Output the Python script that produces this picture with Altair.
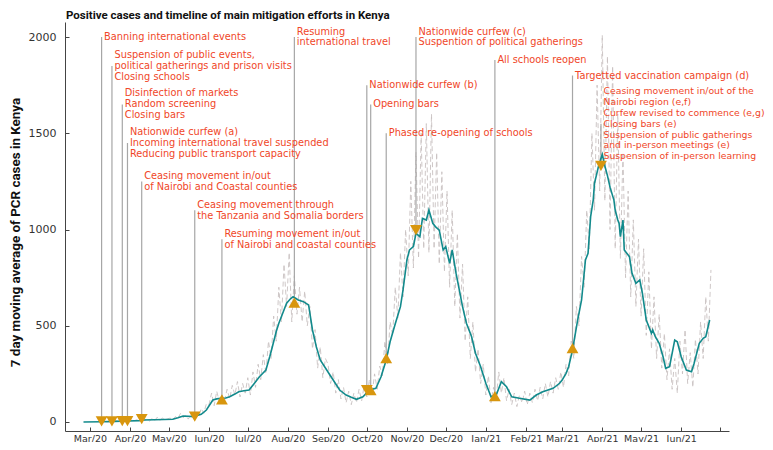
import altair as alt
import pandas as pd

# ---------------- data ----------------
TITLE = "Positive cases and timeline of main mitigation efforts in Kenya"
Y_TITLE = "7 day moving average of PCR cases in Kenya"

avg_dates = ["2020-02-25","2020-03-10","2020-03-20","2020-03-31","2020-04-08","2020-04-11","2020-04-20","2020-05-04","2020-05-08","2020-05-12","2020-05-16","2020-05-20","2020-05-26","2020-05-30","2020-06-04","2020-06-07","2020-06-10","2020-06-14","2020-06-17","2020-06-21","2020-06-24","2020-06-28","2020-07-02","2020-07-06","2020-07-10","2020-07-15","2020-07-18","2020-07-20","2020-07-23","2020-07-25","2020-07-28","2020-07-31","2020-08-03","2020-08-05","2020-08-09","2020-08-13","2020-08-17","2020-08-20","2020-08-23","2020-08-26","2020-08-31","2020-09-05","2020-09-10","2020-09-15","2020-09-19","2020-09-23","2020-09-28","2020-10-03","2020-10-08","2020-10-12","2020-10-16","2020-10-19","2020-10-23","2020-10-27","2020-10-29","2020-11-01","2020-11-03","2020-11-06","2020-11-08","2020-11-11","2020-11-13","2020-11-16","2020-11-18","2020-11-21","2020-11-23","2020-11-26","2020-11-29","2020-12-01","2020-12-04","2020-12-06","2020-12-09","2020-12-11","2020-12-14","2020-12-17","2020-12-21","2020-12-24","2020-12-28","2021-01-01","2021-01-05","2021-01-09","2021-01-13","2021-01-17","2021-01-21","2021-01-27","2021-02-04","2021-02-09","2021-02-14","2021-02-22","2021-02-27","2021-03-01","2021-03-04","2021-03-06","2021-03-09","2021-03-13","2021-03-16","2021-03-19","2021-03-21","2021-03-23","2021-03-25","2021-03-26","2021-03-29","2021-04-01","2021-04-03","2021-04-05","2021-04-07","2021-04-10","2021-04-11","2021-04-13","2021-04-14","2021-04-15","2021-04-17","2021-04-18","2021-04-22","2021-04-24","2021-04-27","2021-04-30","2021-05-02","2021-05-05","2021-05-09","2021-05-10","2021-05-12","2021-05-15","2021-05-18","2021-05-20","2021-05-23","2021-05-27","2021-05-29","2021-06-01","2021-06-05","2021-06-09","2021-06-11","2021-06-15","2021-06-18","2021-06-20","2021-06-23"]
avg_values = [0,1,3,5,7,10,12,14,22,31,30,28,40,62,114,120,123,125,131,145,157,162,166,200,235,270,340,391,470,513,565,617,640,651,634,625,608,478,390,322,270,218,166,140,128,118,131,166,175,235,322,417,510,599,686,842,894,911,980,963,1058,1049,1101,1032,1015,997,894,911,824,894,772,703,599,513,443,357,287,201,131,140,209,183,131,123,114,140,157,175,201,218,253,287,374,530,634,842,876,1067,1153,1240,1326,1390,1330,1280,1220,1153,1100,1049,1032,963,1049,894,859,772,720,738,669,530,461,478,443,409,339,279,287,426,417,339,270,261,305,409,435,443,530]

daily_start = "2020-03-13"   # one value every second day
daily_values = [
    1,0,3,2,7,3,15,6,13,8,
    9,4,12,6,16,8,14,5,18,7,25,9,20,12,17,
    20,10,28,18,45,22,35,15,40,25,52,30,70,45,95,
    90,150,85,160,105,140,110,170,120,190,140,210,130,200,150,
    230,140,260,180,300,220,350,250,420,330,550,420,700,520,820,600,
    880,520,760,560,700,520,680,500,600,380,480,280,390,230,330,
    300,200,260,150,220,120,180,100,160,90,150,100,170,110,190,
    130,220,140,250,170,290,240,420,300,520,450,700,540,880,650,1000,
    760,1250,800,1400,850,1500,900,1550,880,1600,900,1400,820,1300,780,
    1200,700,1100,600,980,540,820,420,650,330,520,260,380,200,300,
    140,240,100,180,120,260,150,230,110,170,90,150,80,140,100,160,
    90,150,100,170,110,180,120,200,130,210,150,230,170,260,
    180,300,240,420,330,600,500,860,700,1100,900,1500,1100,1750,1200,
    2010,1150,1900,1000,1850,900,1600,850,1400,750,1200,650,1050,600,950,
    550,900,450,780,380,650,330,560,280,460,220,380,170,330,150,420,
    250,480,200,360,180,430,250,520,330,650,420,790,
]

event_dates = ["2020-03-10","2020-03-18","2020-03-26","2020-03-30","2020-04-10","2020-05-21","2020-06-11","2020-08-06","2020-10-01","2020-10-04","2020-10-16","2020-11-08","2021-01-08","2021-03-09","2021-03-31"]
event_marker_values = [3,3,4,5,15,28,118,620,166,166,332,997,135,384,1330]
event_label_y = [2000,1850,1650,1450,1250,1100,950,2000,1750,1650,1500,2000,1880,1800,1550]
event_kind = ["down","down","down","down","down","down","up","up","down","up","up","down","up","up","down"]
NB = "\u00a0"
event_labels = [
    "Banning international events",
    "Suspension of public events,\n" + NB + "political gatherings and prison visits\nClosing schools",
    "Disinfection of markets\nRandom screening\nClosing bars",
    "Nationwide curfew (a)\nIncoming international travel suspended\nReducing public transport capacity",
    "Ceasing movement in/out\n" + NB + "of Nairobi and Coastal counties",
    "Ceasing movement through\n" + NB + "the Tanzania and Somalia borders",
    "Resuming movement in/out\n" + NB + "of Nairobi and coastal counties",
    "Resuming\n" + NB + "international travel",
    "Nationwide curfew (b)",
    "Opening bars",
    "Phased re-opening of schools",
    "Nationwide curfew (c)\nSuspention of political gatherings",
    "All schools reopen",
    "Targetted vaccination campaign (d)",
    "Ceasing movement in/out of the\n" + NB + "Nairobi region (e,f)\nCurfew revised to commence (e,g)\nClosing bars (e)\nSuspension of public gatherings\n" + NB + "and in-person meetings (e)\nSuspension of in-person learning",
]

tick_dates = ["2020-03-01","2020-04-01","2020-05-01","2020-06-01","2020-07-01","2020-08-01","2020-09-01","2020-10-01","2020-11-01","2020-12-01","2021-01-01","2021-02-01","2021-03-01","2021-04-01","2021-05-01","2021-06-01","2021-07-01"]
y_ticks = [0, 500, 1000, 1500, 2000]

# ---------------- helpers ----------------
def ms(s):
    return int(pd.Timestamp(s, tz="UTC").value // 10**6)

PLOT_W, PLOT_H = 664, 409
Y_DOMAIN = [-46.8, 2078]
LINE_H = 10.9
line_units = LINE_H * (Y_DOMAIN[1] - Y_DOMAIN[0]) / PLOT_H

df_avg = pd.DataFrame({"t": [ms(d) for d in avg_dates], "v": avg_values})
daily_dates = pd.date_range(daily_start, periods=len(daily_values), freq="2D", tz="UTC")
df_daily = pd.DataFrame({"t": [int(d.value // 10**6) for d in daily_dates], "v": daily_values})
n_lines = [lab.count("\n") + 1 for lab in event_labels]
df_ev = pd.DataFrame({
    "t": [ms(d) for d in event_dates],
    "v": event_marker_values,
    "top": event_label_y,
    # Vega draws the first line at the anchor: centre the block on the label height
    "text_y": [ty + (n - 1) / 2 * line_units for ty, n in zip(event_label_y, n_lines)],
    "kind": event_kind,
    "label": event_labels,
    "nlines": n_lines,
})

tick_ms = [ms(d) for d in tick_dates]
cutoff = ms("2021-06-15")

xs = alt.Scale(type="utc", domain=[ms("2020-02-10T17:00"), ms("2021-07-07T23:00")], nice=False)
ys = alt.Scale(domain=Y_DOMAIN, nice=False, zero=False)

AX_COL = "#444444"
LBL_COL = "#333333"

tick_axis_x = alt.Axis(values=tick_ms, orient="bottom", offset=-4, domain=False, labels=False,
                       ticks=True, tickSize=4, tickColor=AX_COL, tickWidth=1, grid=False, title=None)
tick_axis_y = alt.Axis(values=y_ticks, orient="left", offset=-4, domain=False, labels=False,
                       ticks=True, tickSize=4, tickColor=AX_COL, tickWidth=1, grid=False, title=None)

main_axis_x = alt.Axis(values=tick_ms, orient="bottom", domain=True, domainColor=AX_COL, domainWidth=1,
                       ticks=False, tickSize=0, grid=False, title=None,
                       labelExpr=f"datum.value > {cutoff} ? '' : utcFormat(datum.value, '%b/%y')",
                       labelFont="DejaVu Sans", labelFontSize=9.5, labelColor=LBL_COL, labelPadding=2,
                       labelAngle=0, labelOverlap=False)
main_axis_y = alt.Axis(values=y_ticks, orient="left", domain=True, domainColor=AX_COL, domainWidth=1,
                       ticks=False, tickSize=0, grid=False, format="d",
                       labelFont="DejaVu Sans", labelFontSize=11, labelColor=LBL_COL, labelPadding=9,
                       title=Y_TITLE,
                       titleFont="Roboto", titleFontSize=13.4, titleFontWeight="bold",
                       titleColor="#111111", titleAngle=270, titleX=-50, titleY=210,
                       titleAlign="center", titleBaseline="middle")

grey = alt.Chart(df_daily).mark_line(color="#c8c1c1", strokeWidth=0.9, strokeDash=[5, 3]).encode(
    x=alt.X("t:T", scale=xs, axis=tick_axis_x),
    y=alt.Y("v:Q", scale=ys, axis=tick_axis_y),
)

rules = alt.Chart(df_ev).mark_rule(color="#a6a6a6", strokeWidth=1.2).encode(
    x=alt.X("t:T", scale=xs, axis=None),
    y=alt.Y("v:Q", scale=ys, axis=None),
    y2="top:Q",
)

teal = alt.Chart(df_avg).mark_line(color="#128a8c", strokeWidth=1.6).encode(
    x=alt.X("t:T", scale=xs, axis=main_axis_x),
    y=alt.Y("v:Q", scale=ys, axis=main_axis_y),
)

markers = alt.Chart(df_ev).mark_point(filled=True, size=140, opacity=1, color="#d8960e").encode(
    x=alt.X("t:T", scale=xs, axis=None),
    y=alt.Y("v:Q", scale=ys, axis=None),
    shape=alt.Shape("kind:N", scale=alt.Scale(domain=["down", "up"], range=["triangle-down", "triangle-up"]), legend=None),
)

texts = alt.Chart(df_ev).mark_text(align="left", baseline="middle", dx=2.5, lineBreak="\n",
                                    font="DejaVu Sans", lineHeight=LINE_H,
                                    color="#f04628").encode(
    x=alt.X("t:T", scale=xs, axis=None),
    y=alt.Y("text_y:Q", scale=ys, axis=None),
    text="label:N",
    # the long block at the right edge is shrunk slightly so that it fits the page
    size=alt.condition(alt.datum.nlines > 5, alt.value(9.3), alt.value(9.8)),
)

title = alt.Chart(pd.DataFrame({"title": [TITLE]})).mark_text(
    align="left", baseline="alphabetic", font="Roboto", fontSize=11.5, fontWeight="bold",
    color="#111111",
).encode(x=alt.value(1), y=alt.value(-3), text="title:N")

chart = alt.layer(grey, rules, teal, markers, texts, title).resolve_scale(
    x="independent", y="independent"
).properties(
    width=PLOT_W, height=PLOT_H,
    autosize="none",
    padding={"left": 57, "top": 14, "right": 36, "bottom": 11},
).configure_view(stroke=None)

chart.save("out.html", embed_options={"renderer": "svg", "actions": False})
